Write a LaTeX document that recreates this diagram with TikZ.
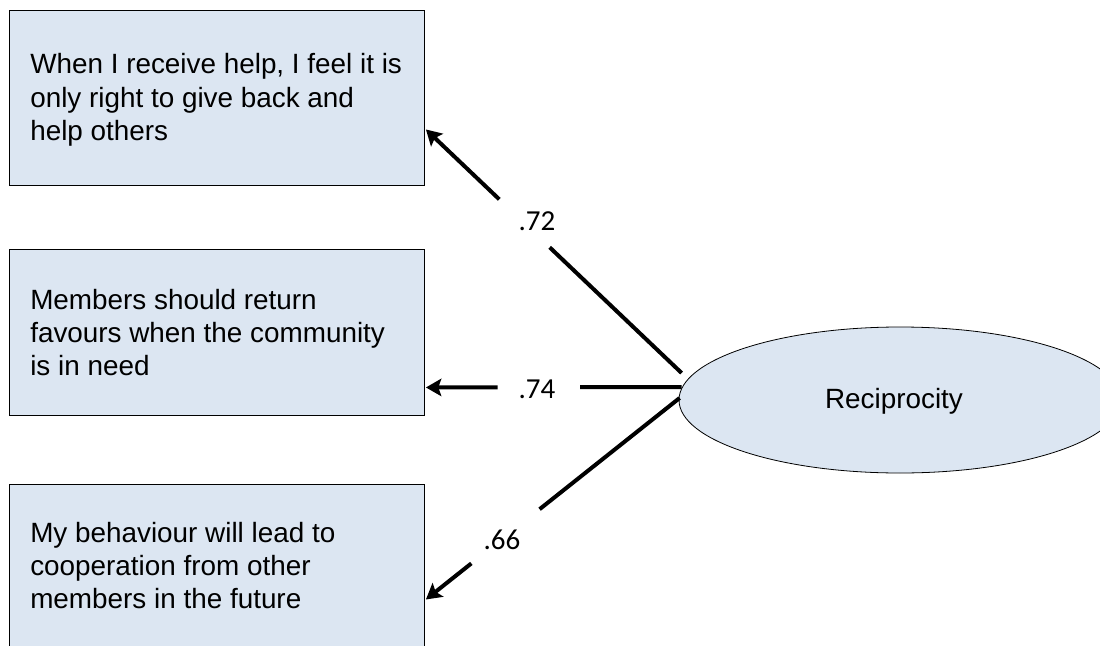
\documentclass[tikz,border=0pt]{standalone}
\usepackage{fontspec}
\setmainfont{Liberation Sans}
\newfontfamily\labelfont{Carlito}
\usetikzlibrary{arrows.meta,shapes.geometric}
\definecolor{itemfill}{RGB}{220,230,242}
\tikzset{
  itembox/.style={draw=black, line width=0.7pt, fill=itemfill, rectangle,
    minimum width=415*0.75pt, inner sep=0pt},
  itemtext/.style={align=left, inner sep=0pt, anchor=west,
    font=\fontsize{20.9pt}{25pt}\selectfont},
  latent/.style={draw=black, line width=0.6pt, fill=itemfill, ellipse,
    minimum width=442*0.75pt, minimum height=146*0.75pt, inner sep=0pt},
  latenttext/.style={inner sep=0pt, font=\fontsize{20.9pt}{25pt}\selectfont},
  loading/.style={line width=3pt},
  loadarrow/.style={line width=3pt, -{Stealth[length=11.5pt, width=13pt, inset=2.25pt]}},
  coef/.style={inner sep=0pt, font=\labelfont\fontsize{21.75pt}{26pt}\selectfont}
}
\begin{document}
\begin{tikzpicture}[x=0.75pt, y=-0.75pt]
  \useasboundingbox (0,0) rectangle (1100,646);

  % observed items
  \node[itembox, minimum height=175*0.75pt, anchor=north west] (b1) at (9,10) {};
  \node[itembox, minimum height=166*0.75pt, anchor=north west] (b2) at (9,249) {};
  \node[itembox, minimum height=166*0.75pt, anchor=north west] (b3) at (9,484) {};

  \node[itemtext] (t1) at ([shift={(21,2)}]b1.west)
    {When I receive help, I feel it is\\only right to give back and\\help others};
  \node[itemtext] (t2) at ([shift={(21,0)}]b2.west)
    {Members should return\\favours when the community\\is in need};
  \node[itemtext] (t3) at ([shift={(21,-2)}]b3.west)
    {My behaviour will lead to\\cooperation from other\\members in the future};

  % latent factor
  \node[latent] (r) at (900,400) {};
  \node[latenttext] (rt) at ([shift={(-6,1)}]r.center) {Reciprocity};

  % connector end points
  \coordinate (s1) at ([shift={(3,-27)}]r.west);
  \coordinate (s2) at ([shift={(3,-13)}]r.west);
  \coordinate (s3) at ([shift={(1,-2)}]r.west);
  \coordinate (a1) at ([shift={(1,31.5)}]b1.east);
  \coordinate (a2) at ([shift={(1,55)}]b2.east);
  \coordinate (a3) at ([shift={(1,32)}]b3.east);

  % breaks in the connectors where the loadings sit
  \path (s1) -- coordinate[pos=0.516] (g1a) coordinate[pos=0.713] (g1b) (a1);
  \path (s2) -- coordinate[pos=0.397] (g2a) coordinate[pos=0.720] (g2b) (a2);
  \path (s3) -- coordinate[pos=0.552] (g3a) coordinate[pos=0.821] (g3b) (a3);

  \draw[loading] (s1) -- (g1a);
  \draw[loadarrow] (g1b) -- (a1);
  \draw[loading] (s2) -- (g2a);
  \draw[loadarrow] (g2b) -- (a2);
  \draw[loading] (s3) -- (g3a);
  \draw[loadarrow] (g3b) -- (a3);

  % loadings
  \node[coef] (l1) at (537,221) {.72};
  \node[coef] (l2) at (537,389) {.74};
  \node[coef] (l3) at (502,540) {.66};
\end{tikzpicture}
\end{document}
